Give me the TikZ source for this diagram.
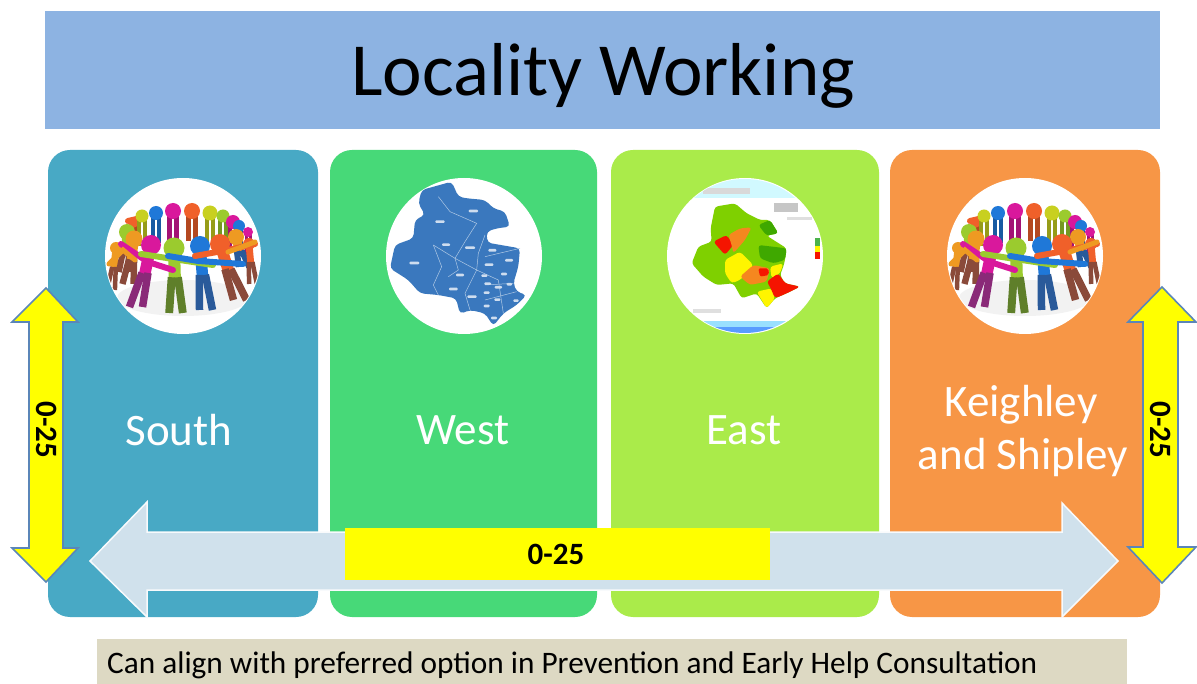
\documentclass[tikz,border=0pt]{standalone}
\usepackage{fontspec}
\setmainfont{Carlito}
\definecolor{bandblue}{HTML}{8DB3E2}
\definecolor{cardteal}{HTML}{48A9C5}
\definecolor{cardgreen}{HTML}{47D978}
\definecolor{cardlime}{HTML}{AAEB4A}
\definecolor{cardorange}{HTML}{F79646}
\definecolor{palearrow}{HTML}{D0E1EC}
\definecolor{arrowedge}{HTML}{5B86B8}
\definecolor{tanbar}{HTML}{DDD9C3}
\definecolor{pureyellow}{RGB}{255,255,0}
\definecolor{mapblue}{HTML}{3A78BE}
\definecolor{mapg}{HTML}{7FD000}
\definecolor{mapdg}{HTML}{3FA800}
\definecolor{mapo}{HTML}{F5871F}
\definecolor{mapy}{RGB}{255,245,0}
\definecolor{mapr}{HTML}{F51400}
\definecolor{pm}{HTML}{D9189C}
\definecolor{pmd}{HTML}{8A2A78}
\definecolor{pg}{HTML}{9BCB2E}
\definecolor{pgd}{HTML}{5F7F2A}
\definecolor{pb}{HTML}{1F78D8}
\definecolor{pbd}{HTML}{2A5A9A}
\definecolor{po}{HTML}{F0602A}
\definecolor{pbr}{HTML}{8A4A3A}
\definecolor{pa}{HTML}{EE9A22}
\definecolor{py}{HTML}{C8D020}
\tikzset{
  card/.style={rounded corners=22pt,minimum height=467pt,inner sep=0pt,draw=none},
  medallion/.style={circle,fill=white,draw=none,minimum size=156pt,inner sep=0pt},
  cardtext/.style={text=white,font=\fontsize{45}{54}\selectfont,inner sep=0pt},
  upright/.style={draw=arrowedge,line width=1.6pt,fill=pureyellow,line join=miter},
  sidelabel/.style={font=\fontsize{31}{36}\selectfont\bfseries,rotate=-90,inner sep=0pt},
  bigarrow/.style={fill=palearrow,draw=white!85!palearrow,line width=1.5pt},
  mapline/.style={draw=white!60!mapblue,line width=.5pt},
  maptag/.style={fill=white!75!mapblue,draw=none,rounded corners=1pt},
  armband/.style={line width=6pt,line cap=round}
}
% figure: head (#1,#2), body #3, legs #4, feet offset #5, head radius #6, leg end below head #7
\newcommand{\fig}[7]{%
  \draw[#3,line width=#6*1.15pt,line cap=round] (#1,#2) -- (#1+#5*.4,#2+#7*.45);
  \draw[#4,line width=#6*.75pt,line cap=butt] (#1+#5*.4-#6*.3,#2+#7*.45) -- (#1+#5-#6*.65,#2+#7);
  \draw[#4,line width=#6*.75pt,line cap=butt] (#1+#5*.4+#6*.3,#2+#7*.45) -- (#1+#5+#6*.65,#2+#7);
  \fill[#3] (#1,#2) circle ({#6*1pt});
}
\newcommand{\backhead}[4]{%
  \draw[#3!75!black,line width=#4*.6pt] (#1-#4*.4,#2+3) -- (#1-#4*.4,#2+30);
  \draw[#3!75!black,line width=#4*.6pt] (#1+#4*.4,#2+3) -- (#1+#4*.4,#2+30);
  \fill[#3] (#1,#2) circle ({#4*1pt});
}
\newcommand{\peoplegroup}[1]{%
  \begin{scope}[shift={(#1,256)}]
    \clip (0,0) circle (77pt);
    \fill[gray!10] (0,42) ellipse (66pt and 18pt);
    \draw[po,line width=6pt,line cap=round] (-55,-35) -- (-42,-38);
    \backhead{-50}{-33}{po}{5}
    \backhead{-41}{-40}{py}{6.5}
    \backhead{-27}{-43}{pb}{7}
    \backhead{-10}{-45}{pm}{8}
    \backhead{9}{-45}{po}{8}
    \backhead{27}{-43}{py}{7.5}
    \backhead{40}{-40}{pg}{6.5}
    \backhead{50}{-34}{pm}{7}
    \backhead{56}{-30}{pb}{6}
    \backhead{65}{-24}{pm}{5}
    \fig{-67}{-8}{pa}{pbr}{-5}{6}{42}
    \fig{-56}{-24}{pg}{pbr}{-3}{8}{40}
    \fig{-49}{-17}{pa}{pbr}{-6}{8.5}{45}
    \fig{53}{-19}{pa}{pbd}{8}{8}{30}
    \fig{66}{-12}{po}{pbr}{4}{6}{40}
    \fig{-32}{-11}{pm}{pmd}{-15}{10}{62}
    \fig{-9}{-8}{pg}{pgd}{2}{10.5}{65}
    \fig{17}{-10}{pb}{pbd}{6}{10}{64}
    \fig{37}{-12}{po}{pbr}{20}{10}{56}
    \draw[pm,armband] (-62,-12) -- (-35,6);
    \draw[pm,armband] (-35,6) -- (-10,14);
    \draw[pg,armband] (-42,-2) -- (-10,3) -- (30,9);
    \draw[pb,armband] (-15,0) -- (15,5) -- (60,8);
    \draw[po,armband] (12,0) -- (45,-6) -- (72,-12);
    \draw[pa,line width=5pt,line cap=round] (-74,8) -- (-60,-6) -- (-48,4);
    \draw[pa,line width=5pt,line cap=round] (45,-4) -- (72,-14);
  \end{scope}%
}
\begin{document}
\begin{tikzpicture}[x=1pt,y=-1pt]
\useasboundingbox (0,0) rectangle (1197,684);
% title band
\node[fill=bandblue,minimum width=1115pt,minimum height=118pt,inner sep=0pt] (band) at (602.5,70) {};
\node[font=\fontsize{75}{90}\selectfont,inner sep=0pt] (title) at (603,76) {Locality Working};
% cards
\node[card,fill=cardteal,minimum width=270pt] (south) at (183,383.5) {};
\node[card,fill=cardgreen,minimum width=267pt] (west) at (463.5,383.5) {};
\node[card,fill=cardlime,minimum width=268pt] (east) at (745,383.5) {};
\node[card,fill=cardorange,minimum width=270pt] (keighley) at (1025,383.5) {};
% medallions
\node[medallion] (c1) at (183,256) {};
\node[medallion] (c2) at (464,256) {};
\node[medallion] (c3) at (745,256) {};
\node[medallion] (c4) at (1025,256) {};
\peoplegroup{183}
\peoplegroup{1025}
% west map
\begin{scope}[shift={(370,170)},scale=1/3]
  \fill[mapblue,rounded corners=4pt] (155,60) -- (245,35) -- (265,80) -- (290,85) -- (345,90) -- (370,115) -- (405,125) -- (420,170) -- (380,175) -- (350,185) -- (352,218) -- (450,235) -- (445,290) -- (430,340) -- (440,365) -- (470,375) -- (440,405) -- (400,430) -- (370,468) -- (345,430) -- (300,420) -- (270,432) -- (258,385) -- (205,375) -- (150,370) -- (115,330) -- (60,295) -- (75,225) -- (130,205) -- (135,150) -- (165,135) -- (145,100) -- cycle;
  \draw[mapline] (205,80) -- (240,125) -- (320,160) -- (285,215) -- (255,265) -- (265,300) -- (235,320);
  \draw[mapline] (190,225) -- (215,290) -- (190,345) -- (205,375);
  \draw[mapline] (345,195) -- (325,250) -- (320,300) -- (285,370) -- (300,420);
  \draw[mapline] (255,265) -- (320,300) -- (385,330) -- (400,430);
  \draw[mapline] (345,260) -- (450,235);
  \draw[mapline] (190,225) -- (255,265);
  \draw[mapline] (345,345) -- (430,340);
  \draw[mapline] (345,390) -- (440,365);
  \foreach \mx/\my/\mw in {310/123/14,210/155/14,228/224/12,300/233/15,367/241/12,417/271/12,357/284/13,133/279/15,270/315/12,343/317/9,402/312/9,353/341/10,385/352/11,418/343/8,250/357/13,306/380/14,350/368/9,382/389/9,350/408/9,372/444/9,438/392/8} {
    \fill[maptag] (\mx-\mw,\my-4) rectangle (\mx+\mw,\my+4);
  }
\end{scope}
% east map
\begin{scope}[shift={(370,170)},scale=1/3]
  \begin{scope}
    \clip (1124,258) circle (231pt);
    \fill[blue!12!cyan!18!white] (950,20) rectangle (1300,85);
    \fill[gray!30!white] (1000,55) rectangle (1140,72);
    \fill[blue!30!cyan!40!white] (960,452) rectangle (1300,470);
    \fill[blue!60!cyan!65!white] (960,470) rectangle (1300,500);
  \end{scope}
  \fill[gray!45] (1212,98) rectangle (1285,125);
  \fill[gray!25] (1250,140) rectangle (1325,150);
  \fill[gray!25] (968,418) rectangle (1052,428);
  \fill[green!40!gray] (1335,205) rectangle (1350,228);
  \fill[mapy] (1335,228) rectangle (1350,246);
  \fill[mapr] (1335,246) rectangle (1350,268);
  \fill[mapg,rounded corners=3pt] (1035,110) -- (1095,100) -- (1130,130) -- (1170,150) -- (1200,150) -- (1225,190) -- (1190,197) -- (1250,235) -- (1245,270) -- (1240,290) -- (1230,315) -- (1245,340) -- (1290,350) -- (1250,370) -- (1215,385) -- (1190,415) -- (1160,370) -- (1115,385) -- (1090,340) -- (1040,345) -- (1000,320) -- (965,280) -- (985,230) -- (1025,215) -- (1022,175) -- cycle;
  \fill[mapdg,rounded corners=3pt] (1165,165) -- (1200,150) -- (1225,190) -- (1190,197) -- cycle;
  \fill[mapdg,rounded corners=3pt] (1165,225) -- (1250,235) -- (1245,270) -- (1210,280) -- (1170,265) -- cycle;
  \fill[mapy,rounded corners=3pt] (1065,270) -- (1110,245) -- (1150,285) -- (1140,300) -- (1110,330) -- (1085,340) -- (1065,310) -- cycle;
  \fill[mapr,rounded corners=3pt] (1030,215) -- (1070,195) -- (1090,225) -- (1065,255) -- cycle;
  \fill[mapo,rounded corners=3pt] (1075,195) -- (1110,175) -- (1145,172) -- (1125,210) -- (1090,250) -- (1085,225) -- cycle;
  \fill[mapy,rounded corners=3pt] (1200,290) -- (1240,280) -- (1230,310) -- (1205,325) -- cycle;
  \fill[mapo,rounded corners=3pt] (1110,320) -- (1150,285) -- (1200,295) -- (1190,335) -- (1140,345) -- cycle;
  \fill[mapr,rounded corners=2pt] (1165,295) -- (1195,295) -- (1197,315) -- (1170,320) -- cycle;
  \fill[mapy,rounded corners=3pt] (1160,365) -- (1205,355) -- (1215,385) -- (1190,415) -- cycle;
  \fill[mapr,rounded corners=3pt] (1190,335) -- (1225,310) -- (1245,340) -- (1290,350) -- (1250,370) -- (1215,385) -- (1200,350) -- cycle;
\end{scope}
% card labels
\node[cardtext] (lsouth) at (179,430) {South};
\node[cardtext] (lwest) at (463,430) {West};
\node[cardtext] (least) at (744,430) {East};
\node[cardtext] (lk1) at (1021,405) {Keighley};
\node[cardtext] (lk2) at (1023,458) {and Shipley};
% horizontal double arrow
\draw[bigarrow] (90,561) -- (147,502) -- (147,532) -- (1062,532) -- (1062,503) -- (1118,561) -- (1062,617) -- (1062,590) -- (147,590) -- (147,617) -- cycle;
\node[fill=pureyellow,minimum width=425pt,minimum height=52pt,inner sep=0pt] (bar) at (557.5,554) {};
\node[font=\fontsize{31}{36}\selectfont\bfseries,inner sep=0pt] (barlabel) at (556,554) {0-25};
% vertical double arrows
\draw[upright] (46,288) -- (78,322) -- (63,322) -- (63,548) -- (78,548) -- (46,582) -- (12,548) -- (29,548) -- (29,322) -- (12,322) -- cycle;
\node[sidelabel] (vl) at (47,430) {0-25};
\draw[upright] (1162,287) -- (1196,322) -- (1178,322) -- (1178,547) -- (1196,547) -- (1162,583) -- (1128,547) -- (1143,547) -- (1143,322) -- (1128,322) -- cycle;
\node[sidelabel] (vr) at (1161,430) {0-25};
% footer
\fill[tanbar] (97,639) rectangle (1127,684);
\node[anchor=west,font=\fontsize{31.3}{36}\selectfont,inner sep=0pt] (foot) at (107,665) {Can align with preferred option in Prevention and Early Help Consultation};
\end{tikzpicture}
\end{document}
